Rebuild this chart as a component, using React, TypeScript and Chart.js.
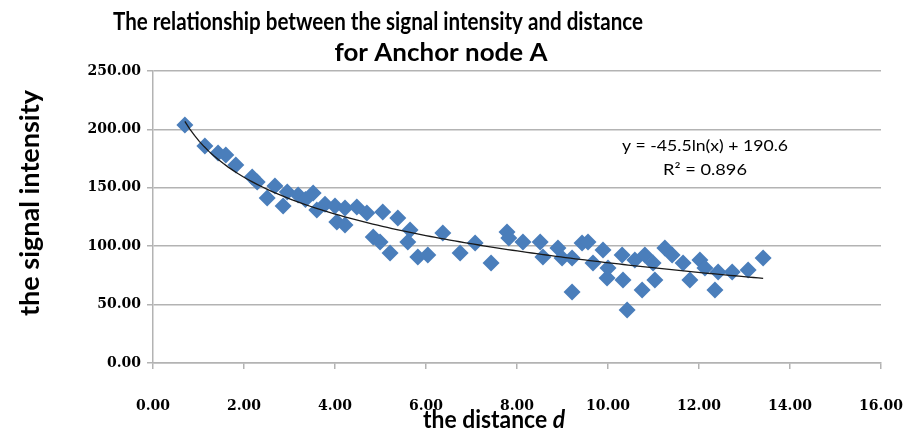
import React, { useEffect, useRef } from "react";
import { Chart, registerables } from "chart.js";

Chart.register(...registerables);

// ---- data ----
const distances = [
  0.70, 1.14, 1.43, 1.60, 1.82, 2.18, 2.29, 2.51, 2.68, 2.86, 2.95, 3.19, 3.35, 3.52, 3.60,
  3.78, 4.00, 4.04, 4.22, 4.22, 4.48, 4.70, 4.84, 4.99, 5.05, 5.21, 5.38, 5.60, 5.65, 5.82,
  6.04, 6.37, 6.75, 7.08, 7.43, 7.78, 7.82, 8.13, 8.51, 8.57, 8.90, 8.99, 9.21, 9.21, 9.43,
  9.56, 9.67, 9.89, 9.98, 10.00, 10.31, 10.33, 10.42, 10.59, 10.75, 10.81, 10.99, 11.03, 11.25,
  11.41, 11.65, 11.80, 12.02, 12.13, 12.35, 12.42, 12.73, 13.08, 13.41,
];
const intensities = [
  203.8, 185.8, 179.8, 178.1, 169.5, 159.2, 155.0, 141.3, 151.5, 134.4, 146.4, 143.8, 140.0, 145.5, 131.0,
  136.0, 134.4, 120.7, 132.7, 118.2, 133.6, 128.4, 107.9, 103.6, 129.3, 94.2, 124.1, 103.6, 113.9, 90.8,
  92.5, 111.3, 94.2, 102.7, 85.6, 112.2, 107.0, 103.6, 103.6, 90.8, 98.5, 89.9, 60.8, 89.9, 102.7,
  103.6, 85.6, 96.7, 72.8, 81.3, 92.5, 71.1, 45.4, 88.2, 62.5, 92.5, 85.6, 71.1, 98.5,
  92.5, 85.6, 71.1, 88.2, 81.3, 62.5, 77.9, 77.9, 79.6, 89.9,
];
const xTickValues = [0, 2, 4, 6, 8, 10, 12, 14, 16];
const yTickValues = [0, 50, 100, 150, 200, 250];

// logarithmic trendline as printed on the chart
const trendSlope = -45.5;
const trendIntercept = 190.6;
const trendEquation = "y = -45.5ln(x) + 190.6";
const trendR2 = "R\u00B2 = 0.896";

const titleLine1 = "The relationship between the signal intensity and distance";
const titleLine2 = "for Anchor node A";
const yAxisTitle = "the signal intensity";
const xAxisTitleMain = "the distance ";
const xAxisTitleItalic = "d";

const SANS = "Lato, 'Open Sans', 'DejaVu Sans', sans-serif";
const SERIF = "'DejaVu Serif', 'Liberation Serif', serif";

function fitText(
  ctx: CanvasRenderingContext2D,
  parts: { text: string; font: string }[],
  cx: number,
  baseline: number,
  targetWidth: number,
  rotate = false
) {
  let total = 0;
  const widths = parts.map((p) => {
    ctx.font = p.font;
    const w = ctx.measureText(p.text).width;
    total += w;
    return w;
  });
  const sx = targetWidth / total;
  ctx.save();
  ctx.translate(cx, baseline);
  if (rotate) ctx.rotate(-Math.PI / 2);
  ctx.scale(sx, 1);
  ctx.textBaseline = "alphabetic";
  ctx.textAlign = "left";
  ctx.fillStyle = "#000";
  let x = -total / 2;
  parts.forEach((p, i) => {
    ctx.font = p.font;
    ctx.fillText(p.text, x, 0);
    x += widths[i];
  });
  ctx.restore();
}

const textPlugin = {
  id: "chartTexts",
  afterDraw(chart: any) {
    const ctx: CanvasRenderingContext2D = chart.ctx;
    fitText(ctx, [{ text: titleLine1, font: `bold 24px ${SANS}` }], 378, 30, 530);
    fitText(ctx, [{ text: titleLine2, font: `bold 24px ${SANS}` }], 441, 61, 213);
    fitText(ctx, [{ text: yAxisTitle, font: `bold 26px ${SANS}` }], 39, 203, 226, true);
    fitText(
      ctx,
      [
        { text: xAxisTitleMain, font: `bold 25px ${SANS}` },
        { text: xAxisTitleItalic, font: `italic bold 25px ${SANS}` },
      ],
      494,
      428,
      142
    );
    fitText(ctx, [{ text: trendEquation, font: `15px ${SANS}` }], 705, 151, 166);
    fitText(ctx, [{ text: trendR2, font: `15px ${SANS}` }], 705, 175, 84);
  },
};

export default function App() {
  const ref = useRef<HTMLCanvasElement | null>(null);

  useEffect(() => {
    if (!ref.current) return;
    const points = distances.map((d, i) => ({ x: d, y: intensities[i] }));
    const xMin = Math.min(...distances);
    const xMax = Math.max(...distances);
    const trend: { x: number; y: number }[] = [];
    const steps = 120;
    for (let i = 0; i <= steps; i++) {
      const x = xMin + ((xMax - xMin) * i) / steps;
      trend.push({ x, y: trendSlope * Math.log(x) + trendIntercept });
    }
    const gridColor = "#b3b3b3";

    const chart = new Chart(ref.current, {
      type: "scatter",
      data: {
        datasets: [
          {
            type: "line",
            data: trend,
            borderColor: "#1a1a1a",
            borderWidth: 1.3,
            pointRadius: 0,
            fill: false,
            order: 0,
          } as any,
          {
            type: "scatter",
            data: points,
            pointStyle: "rectRot",
            pointRadius: 8.5,
            backgroundColor: "#4a7ebb",
            borderColor: "#4a7ebb",
            borderWidth: 0,
            order: 1,
          } as any,
        ],
      },
      options: {
        animation: false,
        responsive: true,
        maintainAspectRatio: false,
        layout: { padding: { top: 71, left: 0, right: 0, bottom: 0 } },
        plugins: {
          legend: { display: false },
          tooltip: { enabled: false },
          title: { display: false },
        },
        scales: {
          x: {
            type: "linear",
            min: xTickValues[0],
            max: xTickValues[xTickValues.length - 1],
            afterBuildTicks: (scale: any) => {
              scale.ticks = xTickValues.map((v) => ({ value: v }));
            },
            afterFit: (scale: any) => {
              scale.height = 71;
              scale.paddingRight = 24;
              scale.paddingLeft = 0;
            },
            grid: {
              drawOnChartArea: false,
              drawTicks: true,
              tickLength: 6,
              color: gridColor,
              lineWidth: 1.5,
            },
            border: { display: true, color: gridColor, width: 1.5 },
            ticks: {
              padding: 29,
              color: "#000",
              font: { family: SERIF, size: 14, weight: "bold" },
              callback: (v: any) => Number(v).toFixed(2),
              maxRotation: 0,
            },
          },
          y: {
            type: "linear",
            min: yTickValues[0],
            max: yTickValues[yTickValues.length - 1],
            afterBuildTicks: (scale: any) => {
              scale.ticks = yTickValues.map((v) => ({ value: v }));
            },
            afterFit: (scale: any) => {
              scale.width = 153;
            },
            grid: {
              drawOnChartArea: true,
              drawTicks: true,
              tickLength: 6,
              color: gridColor,
              lineWidth: 1.5,
            },
            border: { display: true, color: gridColor, width: 1.5 },
            ticks: {
              padding: 6,
              color: "#000",
              font: { family: SERIF, size: 14, weight: "bold" },
              callback: (v: any) => Number(v).toFixed(2),
            },
          },
        },
      },
      plugins: [textPlugin],
    });
    return () => chart.destroy();
  }, []);

  return (
    <div style={{ position: "fixed", left: 0, top: 0, width: 905, height: 434, background: "#fff" }}>
      <canvas ref={ref} />
    </div>
  );
}
